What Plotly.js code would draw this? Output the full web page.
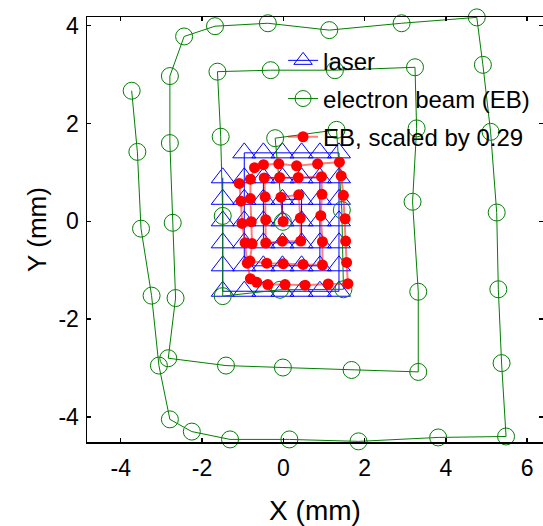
<!DOCTYPE html>
<html>
<head>
<meta charset="utf-8">
<script src="https://cdn.plot.ly/plotly-3.0.1.min.js"></script>
<style>html,body{margin:0;padding:0;background:#fff;}#chart{width:543px;height:526px;}</style>
</head>
<body>
<div id="chart"></div>
<script>
// Laser spot positions (mm), in scan order
var laserX = [-1.49, -1.49, -1.49, -1.49, -1.49, -1.49,
              -0.96, -0.49, -0.02, 0.45, 0.90, 1.37,
              1.37, 1.37, 1.37, 1.37, 1.37, 1.37,
              0.90, 0.45, -0.02, -0.49, -0.96,
              -0.96, -0.96, -0.96, -0.96, -0.96,
              -0.49, -0.02, 0.45, 0.90,
              0.90, 0.90, 0.90, 0.90,
              0.45, -0.02, -0.49,
              -0.49, -0.49, -0.49,
              -0.02, 0.45,
              0.45, 0.45,
              -0.02,
              -0.02];
var laserY = [0.89, 0.45, 0.01, -0.44, -0.91, -1.43,
              -1.43, -1.43, -1.43, -1.43, -1.43, -1.43,
              -0.91, -0.44, 0.01, 0.45, 0.89, 1.40,
              1.40, 1.40, 1.40, 1.40, 1.40,
              0.89, 0.45, 0.01, -0.44, -0.91,
              -0.91, -0.91, -0.91, -0.91,
              -0.44, 0.01, 0.45, 0.89,
              0.89, 0.89, 0.89,
              0.45, 0.01, -0.44,
              -0.44, -0.44,
              0.01, 0.45,
              0.45,
              0.01];

// Electron beam spot positions (mm), same scan order
var ebX = [-3.73, -3.59, -3.50, -3.24, -3.06, -2.79,
           -2.25, -1.31, 0.15, 1.85, 3.81, 5.48,
           5.37, 5.29, 5.25, 5.10, 4.91, 4.76,
           2.91, 1.13, -0.38, -1.68, -2.44,
           -2.79, -2.79, -2.72, -2.65, -2.83,
           -1.41, -0.01, 1.68, 3.32,
           3.32, 3.18, 3.28, 3.24,
           1.27, -0.31, -1.62,
           -1.54, -1.49, -1.49,
           -0.08, 1.48,
           1.44, 1.31,
           -0.20,
           -0.01];
var ebY = [2.67, 1.42, -0.15, -1.52, -2.95, -4.05,
           -4.30, -4.46, -4.46, -4.50, -4.42, -4.40,
           -2.90, -1.39, 0.18, 1.83, 3.20, 4.17,
           4.05, 3.91, 4.05, 3.99, 3.78,
           2.97, 1.60, -0.03, -1.57, -2.80,
           -2.95, -2.99, -3.04, -3.08,
           -1.44, 0.40, 1.90, 3.15,
           3.09, 3.09, 3.06,
           1.73, 0.11, -1.53,
           -1.40, -1.39,
           0.23, 1.87,
           1.70,
           -0.01];

// Scale factor stated in the legend
var ebScale = 0.29;
var ebScaledX = ebX.map(function (v) { return v * ebScale; });
var ebScaledY = ebY.map(function (v) { return v * ebScale; });

var seriesNames = ['laser', 'electron beam (EB)', 'EB, scaled by ' + ebScale];
var xTicks = [-4, -2, 0, 2, 4, 6];
var yTicks = [-4, -2, 0, 2, 4];

var FONT = 'Arial, "Liberation Sans", sans-serif';

var traces = [
  {
    x: laserX, y: laserY, type: 'scatter', mode: 'lines+markers', name: seriesNames[0],
    legendgroup: 'a', cliponaxis: false,
    line: {color: 'rgb(0,0,255)', width: 1},
    marker: {symbol: 'triangle-up-open', size: 20, color: 'rgb(0,0,255)', line: {width: 1, color: 'rgb(0,0,255)'}}
  },
  {
    x: ebX, y: ebY, type: 'scatter', mode: 'lines+markers', name: seriesNames[1],
    legendgroup: 'b', cliponaxis: false,
    line: {color: 'rgb(0,128,0)', width: 1},
    marker: {symbol: 'circle-open', size: 17, color: 'rgb(0,128,0)', line: {width: 1, color: 'rgb(0,128,0)'}}
  },
  {
    x: ebScaledX, y: ebScaledY, type: 'scatter', mode: 'lines+markers', name: seriesNames[2],
    legendgroup: 'c', cliponaxis: false,
    line: {color: 'rgba(255,0,0,0.5)', width: 2},
    marker: {symbol: 'circle', size: 11, color: 'rgb(255,0,0)', line: {width: 0}}
  }
];

var layout = {
  width: 543, height: 526,
  margin: {l: 87, r: 0, t: 17, b: 84, pad: 0},
  paper_bgcolor: '#fff', plot_bgcolor: '#fff',
  font: {family: FONT, color: '#000', size: 23},
  showlegend: true,
  legend: {
    x: 0.43, y: 0.95, xanchor: 'left', yanchor: 'top',
    bgcolor: 'rgba(0,0,0,0)', borderwidth: 0,
    font: {family: FONT, size: 24, color: '#000'},
    traceorder: 'grouped', tracegroupgap: 4
  },
  xaxis: {
    range: [-4.829, 6.389], tickvals: xTicks, ticktext: xTicks.map(String),
    showgrid: false, zeroline: false, showline: true, mirror: 'ticks',
    linecolor: '#000', linewidth: 1.5, ticks: 'inside', ticklen: 4, tickwidth: 1.5, tickcolor: '#000',
    tickfont: {family: FONT, size: 23}, ticklabelstandoff: 5,
    title: {text: 'X (mm)', font: {family: FONT, size: 28}, standoff: 20}
  },
  yaxis: {
    range: [-4.513, 4.178], tickvals: yTicks, ticktext: yTicks.map(String),
    showgrid: false, zeroline: false, showline: true, mirror: 'ticks',
    linecolor: '#000', linewidth: 1.5, ticks: 'inside', ticklen: 4, tickwidth: 1.5, tickcolor: '#000',
    tickfont: {family: FONT, size: 23}, ticklabelstandoff: 2,
    title: {text: 'Y (mm)', font: {family: FONT, size: 26}, standoff: 4}
  }
};

Plotly.newPlot('chart', traces, layout, {displayModeBar: false, staticPlot: true});
</script>
</body>
</html>
